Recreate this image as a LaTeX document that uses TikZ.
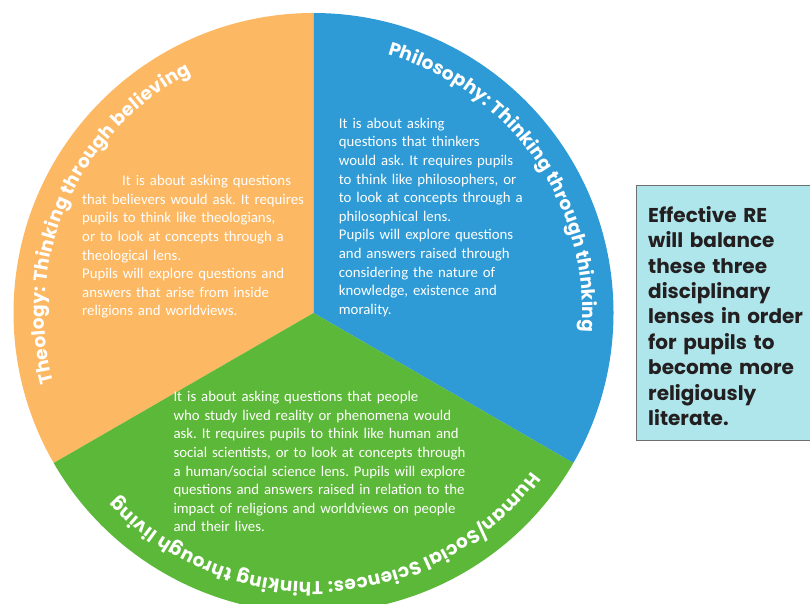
\documentclass[tikz,border=0pt]{standalone}
\usepackage{fontspec}
\setmainfont{Carlito}
\newfontfamily\popfont{Poppins}
\usetikzlibrary{decorations.text}
\definecolor{theoOrange}{HTML}{FDB863}
\definecolor{philBlue}{HTML}{2E9BD6}
\definecolor{humGreen}{HTML}{5CB838}
\definecolor{boxCyan}{HTML}{AEE6EB}
\definecolor{boxLine}{HTML}{6F6F6F}
\definecolor{boxText}{HTML}{231F20}
\frenchspacing
\begin{document}
\begin{tikzpicture}[x=1pt,y=1pt,
  bodytext/.style={anchor=base west, inner sep=0pt, text width=330pt, align=left, text=white, font=\fontsize{14.8}{18.6}\selectfont},
  arctitle/.style={decorate, decoration={text along path, text align={fit to path}, text={|\popfont\bfseries\fontsize{18.5}{18.5}\selectfont\color{white}|#1}}}
]
\useasboundingbox (0,0) rectangle (810,-603);
\clip (0,0) rectangle (810,-603);
\coordinate (c) at (313.5,-313);
% pie sectors
\fill[theoOrange] (c) -- ++(90:300) arc[start angle=90, end angle=210, radius=300] -- cycle;
\fill[philBlue] (c) -- ++(90:300) arc[start angle=90, end angle=-30, radius=300] -- cycle;
\fill[humGreen] (c) -- ++(-30:300) arc[start angle=-30, end angle=-150, radius=300] -- cycle;
% curved titles
\path[shift={(313.5,-313)}, arctitle={Theology: Thinking through believing}] (195:269) arc[start angle=195, end angle=117, radius=269];
\path[shift={(313.5,-313)}, arctitle={Philosophy: Thinking through thinking}] (74:269) arc[start angle=74, end angle=-4, radius=269];
\path[shift={(313.5,-313)}, arctitle={Human/Social Sciences: Thinking through living}] (-36:269) arc[start angle=-36, end angle=-137, radius=269];
% body texts
\node[bodytext] (theoText) at (82,-185.7) {\hspace*{40pt}It is about asking questions\\that believers would ask. It requires\\pupils to think like theologians,\\or to look at concepts through a\\theological lens.\\Pupils will explore questions and\\answers that arise from inside\\religions and worldviews.};
\node[bodytext] (philText) at (338.7,-128.3) {It is about asking\\questions that thinkers\\would ask. It requires pupils\\to think like philosophers, or\\to look at concepts through a\\philosophical lens.\\Pupils will explore questions\\and answers raised through\\considering the nature of\\knowledge, existence and\\morality.};
\node[bodytext] (humText) at (173.3,-401.7) {It is about asking questions that people\\who study lived reality or phenomena would\\ask. It requires pupils to think like human and\\social scientists, or to look at concepts through\\a human/social science lens. Pupils will explore\\questions and answers raised in relation to the\\impact of religions and worldviews on people\\and their lives.};
% side box
\node[draw=boxLine, fill=boxCyan, line width=1.2pt, anchor=north west, minimum width=194pt, minimum height=255pt, inner sep=0pt] (reBox) at (636,-185) {};
\node[anchor=base west, inner sep=0pt, text width=175pt, align=left, text=boxText, font=\popfont\bfseries\fontsize{20}{25.4}\selectfont] (reText) at (648,-222.3) {Effective RE\\will balance\\these three\\disciplinary\\lenses in order\\for pupils to\\become more\\religiously\\literate.};
\end{tikzpicture}
\end{document}
